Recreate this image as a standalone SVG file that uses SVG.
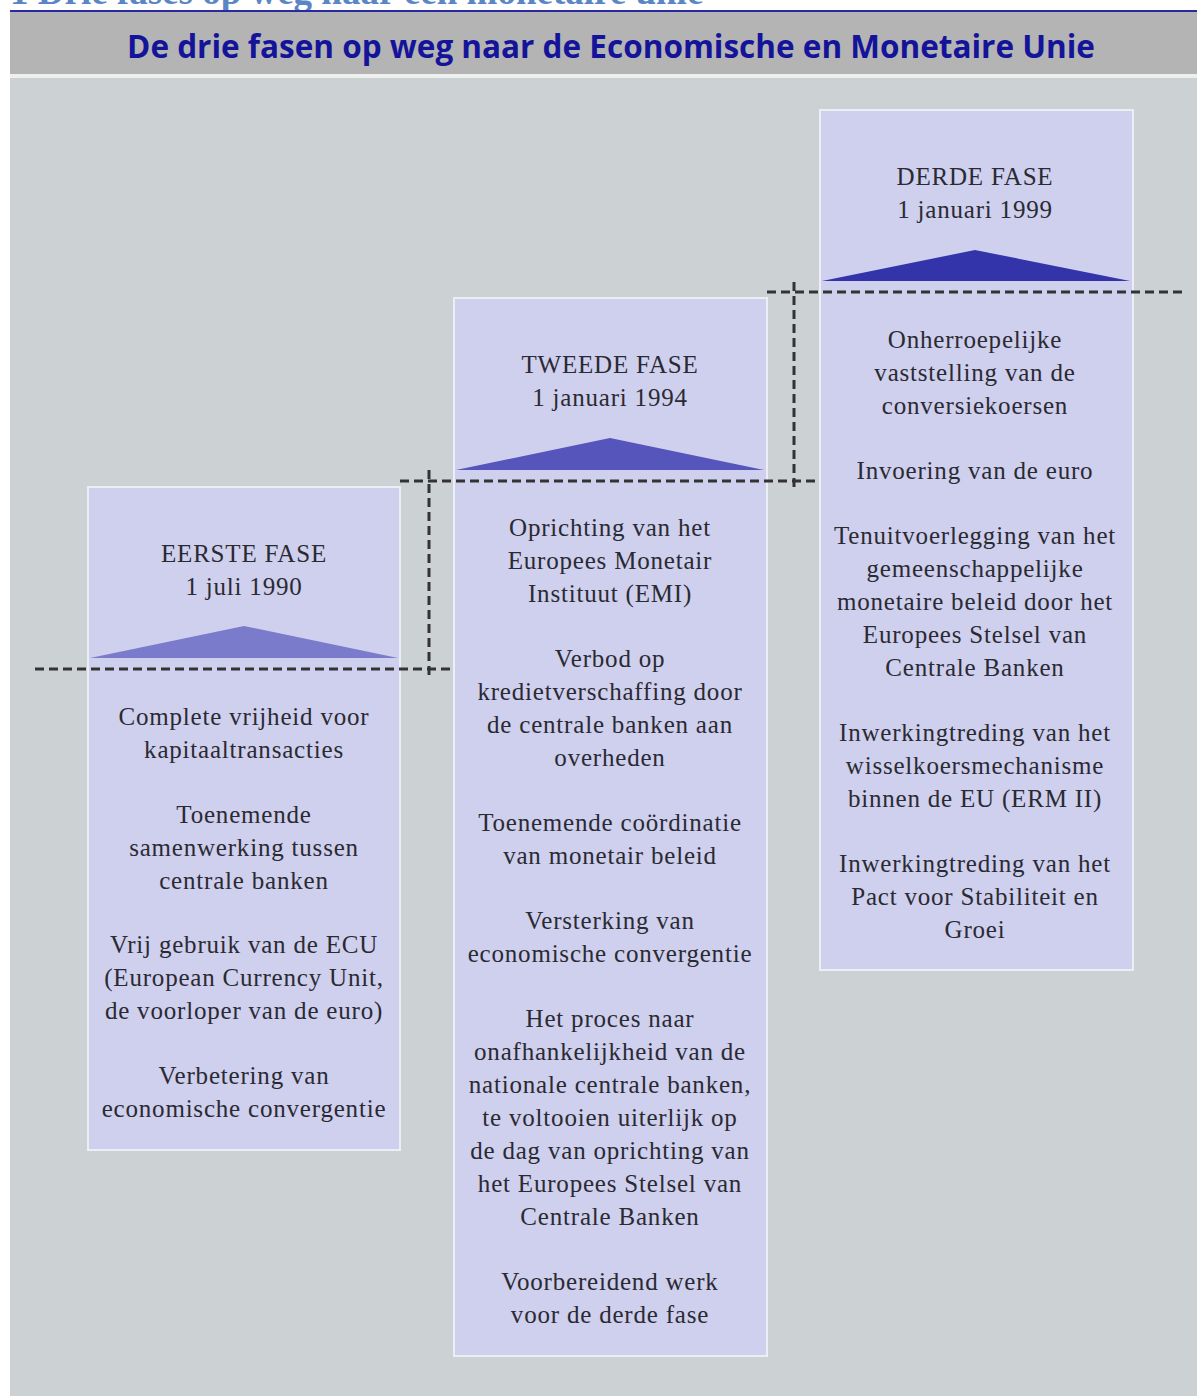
<svg xmlns="http://www.w3.org/2000/svg" width="1197" height="1396" viewBox="0 0 1197 1396">
<style>
.t{font-family:"Liberation Serif","Times New Roman",serif;font-size:25px;fill:#2a2a32;text-anchor:middle;letter-spacing:0.8px}
.box{fill:#cfcfee;stroke:#ecedf5;stroke-width:2}
.dash{stroke:#333;stroke-width:3;stroke-dasharray:9,5;fill:none}
</style>
<rect x="0" y="0" width="1197" height="1396" fill="#ffffff"/>
<text x="10" y="4" font-family="Liberation Serif,serif" font-weight="bold" font-size="37" fill="#5b86c5">1 Drie fases op weg naar een monetaire unie</text>
<rect x="10" y="10" width="1187" height="2" fill="#2a2aa0"/>
<rect x="10" y="12" width="1187" height="62" fill="#b4b4b4"/>
<rect x="10" y="74" width="1187" height="4" fill="#eef0f0"/>
<rect x="10" y="78" width="1187" height="1318" fill="#ccd1d4"/>
<text x="611" y="58" font-family="Open Sans,Liberation Sans,sans-serif" font-weight="bold" font-size="31.5" fill="#14149a" text-anchor="middle">De drie fasen op weg naar de Economische en Monetaire Unie</text>

<g id="fase1">
<rect class="box" x="88" y="487" width="312" height="663"/>
<polygon points="90,658 244,626 398,658" fill="#7b7bcc"/>
<text class="t" x="244" y="562">EERSTE FASE</text>
<text class="t" x="244" y="595">1 juli 1990</text>
<text class="t" x="244" y="725">Complete vrijheid voor</text>
<text class="t" x="244" y="758">kapitaaltransacties</text>
<text class="t" x="244" y="823">Toenemende</text>
<text class="t" x="244" y="856">samenwerking tussen</text>
<text class="t" x="244" y="889">centrale banken</text>
<text class="t" x="244" y="953">Vrij gebruik van de ECU</text>
<text class="t" x="244" y="986">(European Currency Unit,</text>
<text class="t" x="244" y="1019">de voorloper van de euro)</text>
<text class="t" x="244" y="1084">Verbetering van</text>
<text class="t" x="244" y="1117">economische convergentie</text>
</g>

<g id="fase2">
<rect class="box" x="454" y="298" width="313" height="1058"/>
<polygon points="456,470 610,438 764,470" fill="#5555bb"/>
<text class="t" x="610" y="373">TWEEDE FASE</text>
<text class="t" x="610" y="406">1 januari 1994</text>
<text class="t" x="610" y="536">Oprichting van het</text>
<text class="t" x="610" y="569">Europees Monetair</text>
<text class="t" x="610" y="602">Instituut (EMI)</text>
<text class="t" x="610" y="667">Verbod op</text>
<text class="t" x="610" y="700">kredietverschaffing door</text>
<text class="t" x="610" y="733">de centrale banken aan</text>
<text class="t" x="610" y="766">overheden</text>
<text class="t" x="610" y="831">Toenemende coördinatie</text>
<text class="t" x="610" y="864">van monetair beleid</text>
<text class="t" x="610" y="929">Versterking van</text>
<text class="t" x="610" y="962">economische convergentie</text>
<text class="t" x="610" y="1027">Het proces naar</text>
<text class="t" x="610" y="1060">onafhankelijkheid van de</text>
<text class="t" x="610" y="1093">nationale centrale banken,</text>
<text class="t" x="610" y="1126">te voltooien uiterlijk op</text>
<text class="t" x="610" y="1159">de dag van oprichting van</text>
<text class="t" x="610" y="1192">het Europees Stelsel van</text>
<text class="t" x="610" y="1225">Centrale Banken</text>
<text class="t" x="610" y="1290">Voorbereidend werk</text>
<text class="t" x="610" y="1323">voor de derde fase</text>
</g>

<g id="fase3">
<rect class="box" x="820" y="110" width="313" height="860"/>
<polygon points="822,281 975,250 1130,281" fill="#3333aa"/>
<text class="t" x="975" y="185">DERDE FASE</text>
<text class="t" x="975" y="218">1 januari 1999</text>
<text class="t" x="975" y="348">Onherroepelijke</text>
<text class="t" x="975" y="381">vaststelling van de</text>
<text class="t" x="975" y="414">conversiekoersen</text>
<text class="t" x="975" y="479">Invoering van de euro</text>
<text class="t" x="975" y="544">Tenuitvoerlegging van het</text>
<text class="t" x="975" y="577">gemeenschappelijke</text>
<text class="t" x="975" y="610">monetaire beleid door het</text>
<text class="t" x="975" y="643">Europees Stelsel van</text>
<text class="t" x="975" y="676">Centrale Banken</text>
<text class="t" x="975" y="741">Inwerkingtreding van het</text>
<text class="t" x="975" y="774">wisselkoersmechanisme</text>
<text class="t" x="975" y="807">binnen de EU (ERM II)</text>
<text class="t" x="975" y="872">Inwerkingtreding van het</text>
<text class="t" x="975" y="905">Pact voor Stabiliteit en</text>
<text class="t" x="975" y="938">Groei</text>
</g>

<g id="connectors">
<line class="dash" x1="35" y1="669" x2="453" y2="669"/>
<line class="dash" x1="429" y1="470" x2="429" y2="678"/>
<line class="dash" x1="400" y1="481" x2="820" y2="481"/>
<line class="dash" x1="794" y1="282" x2="794" y2="490"/>
<line class="dash" x1="767" y1="292" x2="1187" y2="292"/>
</g>
</svg>
